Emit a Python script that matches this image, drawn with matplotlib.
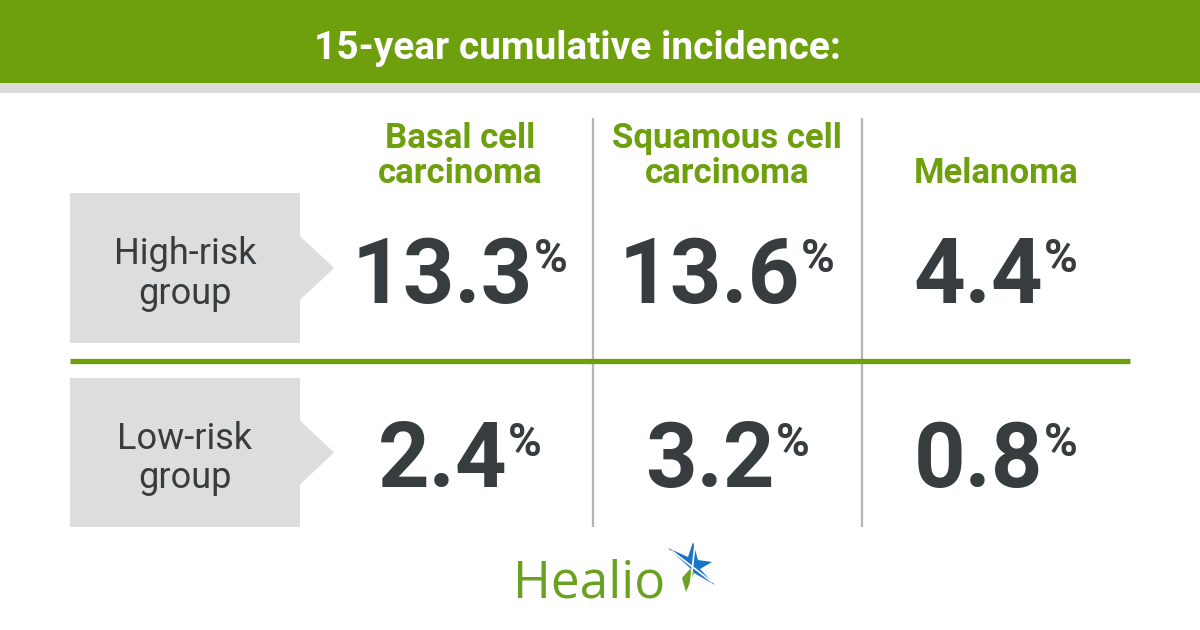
import matplotlib
matplotlib.use("Agg")
import matplotlib.pyplot as plt
from matplotlib.patches import Rectangle, Polygon

# data
title = "15-year cumulative incidence:"
cancers = ["Basal cell\ncarcinoma", "Squamous cell\ncarcinoma", "Melanoma"]
groups = ["High-risk\ngroup", "Low-risk\ngroup"]
high_risk = [13.3, 13.6, 4.4]
low_risk = [2.4, 3.2, 0.8]

GREEN = "#6ea00e"
DARK = "#373c3f"
GRAY_BOX = "#dddddd"
LINE_GRAY = "#b4b4b4"

col_x = [460, 727, 996]
row_box = [(193, 343), (378, 527)]
row_base = [303, 487]

fig = plt.figure(figsize=(12, 6.3), dpi=100)
ax = fig.add_axes([0, 0, 1, 1])
ax.set_xlim(0, 1200)
ax.set_ylim(630, 0)
ax.axis("off")

# header band
ax.add_patch(Rectangle((0, 0), 1200, 83, color=GREEN, lw=0))
ax.add_patch(Rectangle((0, 83), 1200, 10, color="#dcdcdc", lw=0))
ax.text(577, 59, title, color="white", fontsize=28, family="Roboto",
        weight="bold", ha="center", va="baseline")

# column headers
for cx, name in zip(col_x, cancers):
    ax.text(cx, 183, name, color=GREEN, fontsize=25, family="Roboto",
            weight="bold", ha="center", va="baseline", linespacing=1.08,
            multialignment="center")

# separators
for x in [593, 862]:
    ax.plot([x, x], [118, 527], color=LINE_GRAY, lw=1.6, solid_capstyle="butt")
ax.plot([70, 1130], [361, 361], color=GREEN, lw=3.8, solid_capstyle="butt")

# group labels with arrow boxes
for (y0, y1), label in zip(row_box, groups):
    mid = (y0 + y1) / 2
    ax.add_patch(Polygon([(70, y0), (300, y0), (300, mid - 32), (334, mid),
                          (300, mid + 32), (300, y1), (70, y1)],
                         closed=True, color=GRAY_BOX, lw=0))
    ax.text(185, mid + 6, label, color=DARK, fontsize=26, family="Roboto",
            ha="center", va="center", linespacing=1.12)

# values
fig.canvas.draw()
r = fig.canvas.get_renderer()
for vals, base in zip([high_risk, low_risk], row_base):
    for cx, v in zip(col_x, vals):
        num = ax.text(cx, base, f"{v:.1f}", color=DARK, fontsize=65,
                      family="Roboto", weight="bold", ha="right",
                      va="baseline")
        pct = ax.text(cx, base - 31, "%", color=DARK, fontsize=33,
                      family="Roboto", weight="bold", ha="left",
                      va="baseline")
        wn = num.get_window_extent(r).width
        wp = pct.get_window_extent(r).width
        gap = 1
        left = cx - (wn + gap + wp) / 2
        num.set_x(left + wn)
        pct.set_x(left + wn + gap)

# logo
ax.text(513, 597, "Healio", color="#6aa121", fontsize=37, family="Open Sans",
        ha="left", va="baseline")
ax.add_patch(Polygon([(668, 548), (688, 557), (693, 542), (698, 560),
                      (712, 562), (700, 569), (715, 585), (694, 573),
                      (690, 568)],
                     closed=True, color="#1b74c6", lw=0))
ax.add_patch(Polygon([(690, 569), (694, 573), (686, 592), (682, 578)],
                     closed=True, color="#6aa121", lw=0))
ax.plot([672, 712], [551, 582], color="white", lw=1.2)
ax.plot([695, 690], [545, 588], color="white", lw=1.2)

fig.savefig("out.png", dpi=100, facecolor="white")
